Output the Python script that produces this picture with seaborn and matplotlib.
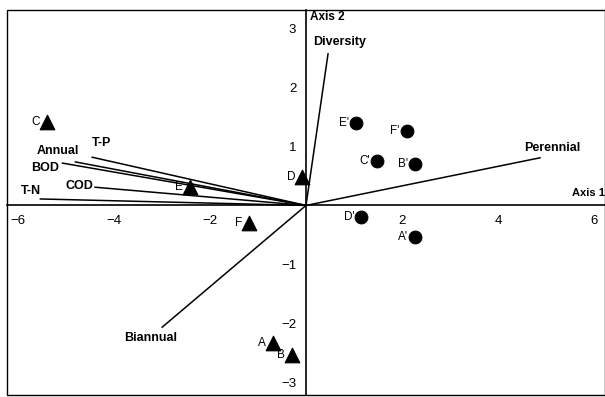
import matplotlib
matplotlib.use("Agg")
import matplotlib.pyplot as plt
import seaborn as sns
import pandas as pd
from matplotlib.patches import Rectangle

sns.set_style("white")
plt.rcParams['font.family'] = ['Liberation Sans', 'DejaVu Sans']
plt.rcParams['text.color'] = 'black'
plt.rcParams['xtick.color'] = 'black'
plt.rcParams['ytick.color'] = 'black'
plt.rcParams['axes.edgecolor'] = 'black'

# Site scores (triangles)
site_names = ["C", "E", "D", "F", "A", "B"]
site_x = [-5.40, -2.42, -0.08, -1.19, -0.69, -0.29]
site_y = [1.42, 0.31, 0.48, -0.30, -2.34, -2.54]

# Group scores (circles)
grp_names = ["E'", "F'", "C'", "B'", "D'", "A'"]
grp_x = [1.04, 2.10, 1.48, 2.27, 1.15, 2.27]
grp_y = [1.40, 1.27, 0.76, 0.71, -0.20, -0.54]

# Environmental vectors
vec_names = ["Diversity", "Perennial", "Biannual", "T-P", "Annual", "BOD", "COD", "T-N"]
vec_x = [0.46, 4.88, -3.00, -4.46, -4.81, -5.08, -4.40, -5.54]
vec_y = [2.58, 0.81, -2.07, 0.82, 0.74, 0.72, 0.31, 0.11]
lab_x = [0.71, 5.13, -3.23, -4.27, -5.17, -5.44, -4.73, -5.73]
lab_y = [2.78, 0.98, -2.25, 1.06, 0.93, 0.64, 0.33, 0.25]

xticks = [-6, -4, -2, 2, 4, 6]
yticks = [-3, -2, -1, 1, 2, 3]

fig = plt.figure(figsize=(6.05, 3.97), dpi=100)
ax = fig.add_axes([7/605, 2/397, 1 - 7/605, 1 - 12/397])
ax.set_xlim(-6.23, 6.23)
ax.set_ylim(-3.22, 3.32)

# vectors
for x, y in zip(vec_x, vec_y):
    ax.plot([0, x], [0, y], color="black", lw=1.1, zorder=2)
for n, x, y in zip(vec_names, lab_x, lab_y):
    ax.text(x, y, n, fontsize=9, fontweight="bold", ha="center", va="center", color="black")

sites = pd.DataFrame({"x": site_x, "y": site_y, "name": site_names})
grps = pd.DataFrame({"x": grp_x, "y": grp_y, "name": grp_names})
sns.scatterplot(data=sites, x="x", y="y", marker="^", s=110, color="black",
                edgecolor="black", ax=ax, zorder=3)
sns.scatterplot(data=grps, x="x", y="y", marker="o", s=85, color="black",
                edgecolor="black", ax=ax, zorder=3)
for df in (sites, grps):
    for _, r in df.iterrows():
        ax.annotate(r["name"], (r["x"], r["y"]), xytext=(-5, 0), textcoords="offset points",
                    ha="right", va="center", fontsize=8.5, color="black")

ax.set_xlabel("")
ax.set_ylabel("")

for s in ["top", "right"]:
    ax.spines[s].set_visible(False)
ax.spines["left"].set_position(("data", 0))
ax.spines["bottom"].set_position(("data", 0))
ax.spines["left"].set_linewidth(1.2)
ax.spines["bottom"].set_linewidth(1.2)
ax.set_xticks(xticks)
ax.set_yticks(yticks)
ax.set_xticklabels([f"\u2212{abs(t)}" if t < 0 else str(t) for t in xticks], fontsize=9.5)
ax.set_yticklabels([f"\u2212{abs(t)}" if t < 0 else str(t) for t in yticks], fontsize=9.5)
ax.tick_params(axis="both", direction="out", length=5, width=1, colors="black", pad=2)

ax.add_patch(Rectangle((0, 0), 1, 1, transform=ax.transAxes, fill=False,
                       edgecolor="black", lw=1.0, clip_on=False, zorder=1))

ax.text(0.08, 3.2, "Axis 2", fontsize=8.5, fontweight="bold", ha="left", va="center", color="black")
ax.text(5.55, 0.21, "Axis 1", fontsize=8, fontweight="bold", ha="left", va="center", color="black")

fig.savefig("out.png", dpi=100)
